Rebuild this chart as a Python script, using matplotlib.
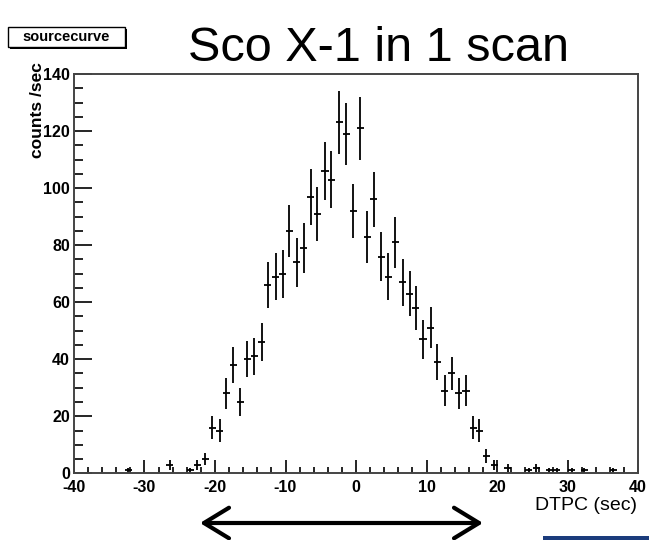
import numpy as np
import matplotlib.pyplot as plt
from matplotlib.patches import Rectangle

plt.rcParams['font.family'] = ['Liberation Sans', 'DejaVu Sans']
plt.rcParams['axes.unicode_minus'] = False

# bin centres (sec) and counts per 1 s bin
dtpc = [-32.3, -26.4, -23.5, -22.5, -21.4, -20.4, -19.3, -18.4, -17.4, -16.4,
        -15.4, -14.4, -13.4, -12.5, -11.4, -10.4, -9.5, -8.4, -7.4, -6.4,
        -5.5, -4.4, -3.5, -2.4, -1.4, -0.4, 0.6, 1.6, 2.5, 3.6,
        4.6, 5.6, 6.6, 7.6, 8.5, 9.5, 10.6, 11.5, 12.6, 13.6,
        14.6, 15.6, 16.6, 17.5, 18.5, 19.6, 21.5, 24.5, 25.6, 27.4,
        28.5, 30.6, 32.4, 36.5]
counts = [1, 3, 1, 3, 5, 16, 15, 28, 38, 25,
          40, 41, 46, 66, 69, 70, 85, 74, 79, 97,
          91, 106, 103, 123, 119, 92, 121, 83, 96, 76,
          69, 81, 67, 63, 58, 47, 51, 39, 29, 35,
          28, 29, 16, 15, 6, 3, 2, 1, 2, 1,
          1, 1, 1, 1]
bin_width = 1.0

x_ticks = [-40, -30, -20, -10, 0, 10, 20, 30, 40]
y_ticks = [0, 20, 40, 60, 80, 100, 120, 140]

W, H = 649, 540
fig = plt.figure(figsize=(W / 100, H / 100), dpi=100)
ax = fig.add_axes([74 / W, 66.7 / H, 564 / W, 399.3 / H])

y = np.array(counts, dtype=float)
ax.errorbar(dtpc, y, xerr=bin_width / 2, yerr=np.sqrt(y), fmt='none',
            ecolor='black', elinewidth=1.3, capsize=0)

ax.set_xlim(-40, 40)
ax.set_ylim(0, 140)
ax.set_xticks(x_ticks)
ax.set_yticks(y_ticks)
ax.set_xticks(np.arange(-40, 41, 2), minor=True)
ax.set_yticks(np.arange(0, 141, 5), minor=True)
ax.tick_params(axis='x', which='major', direction='in', length=9.4, width=1.2,
               pad=5, labelsize=11.5)
ax.tick_params(axis='x', which='minor', direction='in', length=4.3, width=1.2)
ax.tick_params(axis='y', which='major', direction='in', length=13, width=1.2,
               pad=3, labelsize=11.5)
ax.tick_params(axis='y', which='minor', direction='in', length=6.5, width=1.2)
for lab in ax.get_xticklabels() + ax.get_yticklabels():
    lab.set_fontweight('bold')
for sp in ax.spines.values():
    sp.set_color('#444444')
    sp.set_linewidth(1.4)

# axis titles, ROOT style
fig.text(37 / W, 1 - 62 / H, 'counts /sec', rotation=90, ha='center', va='top',
         fontsize=12.5, fontweight='bold')
fig.text(637 / W, 1 - 506 / H, 'DTPC (sec)', ha='right', va='center',
         fontsize=14)

# histogram name box with shadow
bx0, bx1, by0, by1 = 8, 125, 27, 47
fig.add_artist(Rectangle(((bx0 + 2) / W, 1 - (by1 + 2) / H), (bx1 - bx0) / W,
                         (by1 - by0) / H, transform=fig.transFigure,
                         facecolor='black', edgecolor='black', lw=0))
fig.add_artist(Rectangle((bx0 / W, 1 - by1 / H), (bx1 - bx0) / W,
                         (by1 - by0) / H, transform=fig.transFigure,
                         facecolor='white', edgecolor='black', lw=1))
fig.text((bx0 + bx1) / 2 / W, 1 - (by0 + by1) / 2 / H, 'sourcecurve',
         ha='center', va='center', fontsize=10.5, fontweight='bold')

fig.text(378 / W, 1 - 61 / H, 'Sco X-1 in 1 scan', ha='center',
         va='baseline', fontsize=35)

# scan extent arrow
ax.annotate('', xy=(483, H - 523), xytext=(200, H - 523),
            xycoords='figure pixels', textcoords='figure pixels',
            arrowprops=dict(arrowstyle='<->,head_length=0.9,head_width=0.55',
                            mutation_scale=20, lw=3, color='black',
                            shrinkA=0, shrinkB=0))

fig.add_artist(Rectangle((543 / W, 0), 106 / W, 4 / H,
                         transform=fig.transFigure, facecolor='#1b3c7c', lw=0))

fig.savefig('out.png', dpi=100)
